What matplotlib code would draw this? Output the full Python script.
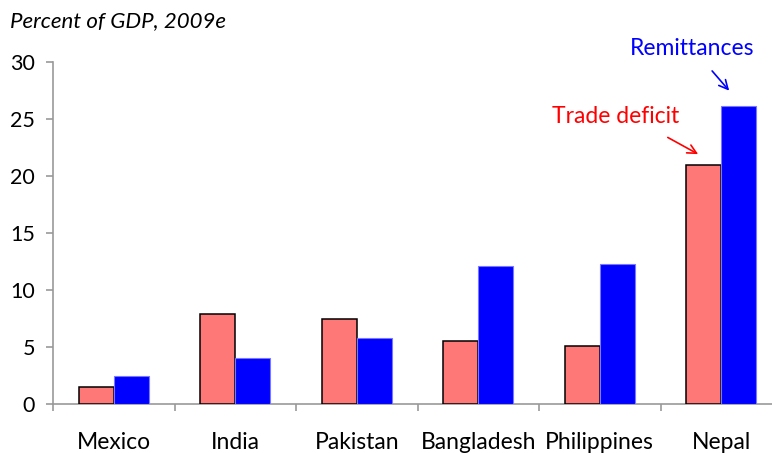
import matplotlib
matplotlib.use("Agg")
import matplotlib.pyplot as plt
import numpy as np

plt.rcParams['font.family'] = ['Lato', 'DejaVu Sans']

categories = ["Mexico", "India", "Pakistan", "Bangladesh", "Philippines", "Nepal"]
trade_deficit = [1.5, 7.9, 7.5, 5.5, 5.1, 21.0]
remittances = [2.5, 4.0, 5.8, 12.1, 12.3, 26.1]
yticks = [0, 5, 10, 15, 20, 25, 30]

fig = plt.figure(figsize=(7.72, 4.53), dpi=100)
ax = fig.add_axes([53/772, 49/453, 729/772, 342/453])

x = np.arange(len(categories)) + 0.5
w = 0.29
ax.bar(x - w/2, trade_deficit, width=w, color="#FF7878", edgecolor="black", linewidth=1.1, zorder=3)
ax.bar(x + w/2, remittances, width=w, color="#0000FF", edgecolor="#7777FF", linewidth=0.8, zorder=3)

ax.set_xlim(0, 6)
ax.set_ylim(0, 30)
ax.set_yticks(yticks)
ax.set_yticklabels([str(v) for v in yticks], fontsize=15.5)
ax.set_xticks(x)
ax.set_xticklabels(categories, fontsize=16.5)
ax.set_xticks(np.arange(0, 7), minor=True)
ax.tick_params(axis='x', which='major', length=0, pad=20)
ax.tick_params(axis='x', which='minor', length=5, color="#999999", width=1.2, direction='out')
ax.tick_params(axis='y', length=5, color="#999999", width=1.2, direction='out', pad=8)

for s in ["top", "right"]:
    ax.spines[s].set_visible(False)
for s in ["left", "bottom"]:
    ax.spines[s].set_color("#999999")
    ax.spines[s].set_linewidth(1.2)

fig.text(10/772, 1 - 21/453, "Percent of GDP, 2009e", fontsize=16, style='italic',
         ha='left', va='center')

ax.annotate("", xy=(5.58, 27.3), xytext=(5.41, 29.4),
            arrowprops=dict(arrowstyle="->", color="#0000FF", lw=1.2, mutation_scale=16),
            annotation_clip=False)
ax.text(5.26, 31.2, "Remittances", color="#0000FF", fontsize=16.5, ha='center', va='center', clip_on=False)

ax.annotate("", xy=(5.33, 21.8), xytext=(5.04, 23.5),
            arrowprops=dict(arrowstyle="->", color="#FF0000", lw=1.2, mutation_scale=16),
            annotation_clip=False)
ax.text(4.63, 25.2, "Trade deficit", color="#FF0000", fontsize=16.5, ha='center', va='center')

fig.savefig("out.png", dpi=100)
